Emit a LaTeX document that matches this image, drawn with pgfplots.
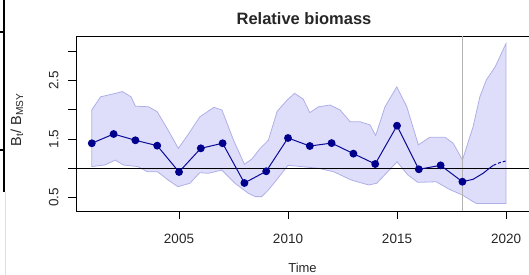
\documentclass[border=0pt]{standalone}
\usepackage{fontspec}
\setmainfont{Liberation Sans}
\usepackage{pgfplots}
\pgfplotsset{compat=1.18}
\definecolor{bandfill}{RGB}{222,222,250}
\definecolor{bandedge}{RGB}{175,175,232}
\definecolor{mainline}{RGB}{10,10,150}
\definecolor{markcol}{RGB}{0,0,140}
\begin{document}
\begin{tikzpicture}
\useasboundingbox (0,0) rectangle (529pt,275pt);
\draw[line width=2pt] (4pt,275pt) -- (4pt,83pt);
\draw[line width=1.5pt] (0pt,243pt) -- (4pt,243pt);
\draw[line width=1.5pt] (0pt,125pt) -- (4pt,125pt);
\draw[black!12, line width=1pt] (5.5pt,83pt) -- (5.5pt,0pt);
\begin{axis}[
  at={(76pt,64pt)}, anchor=south west,
  scale only axis, width=458pt, height=175pt,
  xmin=2000.275, xmax=2021.284, ymin=0.271, ymax=3.258,
  axis line style={black, line width=0.9pt},
  clip=true,
  tick align=outside,
  xtick pos=left, ytick pos=left,
  major tick length=8pt,
  tick style={black, line width=0.8pt},
  xtick={2005,2010,2015,2020},
  xticklabels={2005,2010,2015,2020},
  ytick={0.5,1,1.5,2,2.5,3},
  yticklabels={0.5,,1.5,,2.5,},
  ticklabel style={font=\fontsize{13.5}{16}\selectfont, text=black!85},
  xticklabel style={anchor=base, inner sep=0pt, yshift=-25pt},
  yticklabel style={xshift=-9.7pt, rotate=90, anchor=base, inner sep=0pt},
]
\addplot[fill=bandfill, draw=bandedge, line width=0.8pt] coordinates {
(2001,1.03) (2001,1.995) (2001.4,2.22) (2002.1,2.28) (2002.4,2.31) (2002.8,2.22)
(2003.0,2.06) (2003.6,2.05) (2004.0,1.966) (2004.5,1.65) (2004.97,1.34)
(2005.35,1.54) (2005.96,1.88) (2006.6,2.04) (2006.97,1.995) (2007.5,1.48)
(2008.0,1.07) (2008.35,1.16) (2008.7,1.33) (2009.1,1.48) (2009.5,1.97)
(2009.96,2.165) (2010.3,2.28) (2010.7,2.18) (2011.0,1.95) (2011.4,2.05)
(2011.93,2.08) (2012.39,1.995) (2012.85,1.795) (2013.3,1.795) (2013.76,1.74)
(2014.02,1.56) (2014.45,2.05) (2014.99,2.39) (2015.45,2.05) (2015.75,1.68)
(2015.98,1.40) (2016.5,1.53) (2017.2,1.53) (2017.57,1.43) (2017.8,1.28)
(2018.0,1.14) (2018.49,1.71) (2018.8,2.22) (2019.1,2.51) (2019.5,2.73)
(2020,3.13)
(2020,0.40) (2018.64,0.40) (2018.49,0.43) (2018.0,0.544) (2017.4,0.64)
(2016.8,0.77) (2015.95,0.76) (2015.5,0.886) (2015.0,1.11) (2014.07,0.744)
(2013.7,0.715) (2012.9,0.80) (2012.1,0.94) (2011.4,1.0) (2010.6,1.03)
(2010.0,1.05) (2009.45,0.79) (2009.1,0.63) (2008.79,0.516) (2008.5,0.516)
(2008.18,0.573) (2007.57,0.744) (2006.96,0.97) (2006.35,0.915) (2005.95,0.925)
(2005.5,0.744) (2004.95,0.686) (2004.5,0.80) (2004.02,0.94) (2003.56,0.94)
(2003.1,1.03) (2002.45,1.056) (2002.07,1.14) (2001.6,1.056)
} -- cycle;
\addplot[black!30, line width=0.8pt] coordinates {(2018,0.271) (2018,3.258)};
\addplot[black, line width=1pt] coordinates {(2000.275,1) (2021.284,1)};
\addplot[mainline, line width=1pt] coordinates {
(2018,0.771) (2018.49,0.812) (2018.95,0.915) (2019.33,1.027) (2019.42,1.05)};
\addplot[mainline, line width=1pt, dash pattern=on 3pt off 2pt] coordinates {
(2019.42,1.05) (2019.71,1.096) (2020,1.125)};
\addplot[mainline, line width=1pt, mark=*, mark size=3.4pt,
  mark options={fill=markcol, draw=markcol}] coordinates {
(2001,1.427) (2002,1.585) (2003,1.478) (2004,1.386) (2005,0.937)
(2006,1.341) (2007,1.427) (2008,0.749) (2009,0.949) (2010,1.517)
(2011,1.38) (2012,1.43) (2013,1.25) (2014,1.073) (2015,1.727)
(2016,0.983) (2017,1.05) (2018,0.771)};
\end{axis}
\node[anchor=base, font=\bfseries\fontsize{16.5}{19}\selectfont, text=black!85] at (304pt,250pt) {Relative biomass};
\node[anchor=base, font=\fontsize{13}{15}\selectfont, text=black!85] at (302.5pt,2pt) {Time};
\node[anchor=base, rotate=90, font=\fontsize{14.5}{17}\selectfont, text=black!85] at (21pt,155pt) {B\textsubscript{t}/ B\textsubscript{MSY}};
\end{tikzpicture}
\end{document}
